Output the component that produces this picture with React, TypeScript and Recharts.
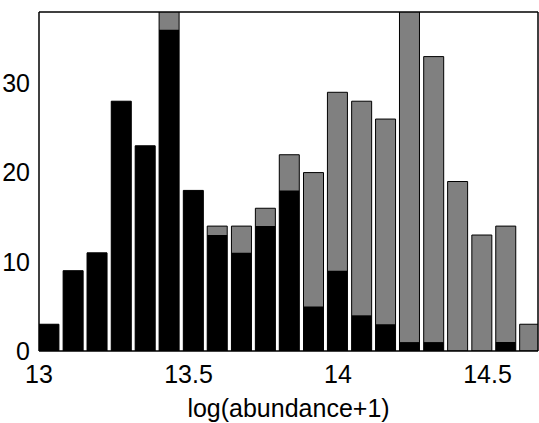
import { Bar, ComposedChart, Label, XAxis, YAxis } from 'recharts';

// Histogram of log(abundance+1): grey = all, black = subset drawn on top.
const binCenters = [
  13.033, 13.114, 13.194, 13.275, 13.355, 13.435, 13.516, 13.596, 13.677, 13.757, 13.837,
  13.918, 13.998, 14.079, 14.159, 14.239, 14.32, 14.4, 14.481, 14.561, 14.641,
];
const totalCounts = [3, 9, 11, 28, 23, 39, 18, 14, 14, 16, 22, 20, 29, 28, 26, 40, 33, 19, 13, 14, 3];
const subsetCounts = [3, 9, 11, 28, 23, 36, 18, 13, 11, 14, 18, 5, 9, 4, 3, 1, 1, 0, 0, 1, 0];

const xTicks = [13, 13.5, 14, 14.5];
const yTicks = [0, 10, 20, 30];
const X_DOMAIN: [number, number] = [13, 14.669];
const Y_DOMAIN: [number, number] = [0, 38];

const FONT = { fontFamily: '"Liberation Sans", Arial, sans-serif', fontSize: 25, fill: '#000' };
const GREY = '#808080';

const rows = binCenters.map((x, i) => ({ x, total: totalCounts[i], subset: subsetCounts[i] }));

export default function App() {
  return (
    <div style={{ position: 'absolute', left: 0, top: 0 }}>
      <ComposedChart width={539} height={423} data={rows} margin={{ top: 12, right: 1, bottom: 0, left: 0 }}>
        {/* bottom axis with labels */}
        <XAxis
          xAxisId="main"
          dataKey="x"
          type="number"
          domain={X_DOMAIN}
          allowDataOverflow
          ticks={xTicks}
          tickFormatter={(v) => String(v)}
          tickLine={false}
          tickSize={0}
          tickMargin={14}
          axisLine={{ stroke: '#000', strokeWidth: 1.5 }}
          tick={FONT}
          height={72}
        >
          <Label value="log(abundance+1)" position="insideBottom" offset={6} style={FONT} />
        </XAxis>
        {/* overlay axis for black bars */}
        <XAxis xAxisId="overlay" dataKey="x" type="number" domain={X_DOMAIN} allowDataOverflow hide />
        {/* inward tick marks, top */}
        <XAxis
          xAxisId="top"
          orientation="top"
          mirror
          type="number"
          domain={X_DOMAIN}
          allowDataOverflow
          ticks={xTicks}
          tick={false}
          tickSize={5}
          tickLine={{ stroke: '#000' }}
          axisLine={{ stroke: '#000', strokeWidth: 1.5 }}
          height={1}
        />
        <YAxis
          yAxisId="left"
          type="number"
          domain={Y_DOMAIN}
          allowDataOverflow
          ticks={yTicks}
          tickLine={false}
          tickSize={0}
          tickMargin={9}
          axisLine={{ stroke: '#000', strokeWidth: 1.5 }}
          tick={FONT}
          width={39}
        />
        <YAxis
          yAxisId="leftTicks"
          orientation="left"
          mirror
          type="number"
          domain={Y_DOMAIN}
          allowDataOverflow
          ticks={yTicks}
          tick={false}
          tickSize={5}
          tickLine={{ stroke: '#000' }}
          axisLine={false}
          width={1}
        />
        <YAxis
          yAxisId="right"
          orientation="right"
          mirror
          type="number"
          domain={Y_DOMAIN}
          allowDataOverflow
          ticks={yTicks}
          tick={false}
          tickSize={5}
          tickLine={{ stroke: '#000' }}
          axisLine={{ stroke: '#000', strokeWidth: 1.5 }}
          width={1}
        />
        <Bar
          xAxisId="main"
          yAxisId="left"
          dataKey="total"
          fill={GREY}
          stroke="#000"
          strokeWidth={1}
          barSize={20}
          isAnimationActive={false}
        />
        <Bar
          xAxisId="overlay"
          yAxisId="left"
          dataKey="subset"
          fill="#000"
          barSize={20}
          isAnimationActive={false}
        />
      </ComposedChart>
    </div>
  );
}
